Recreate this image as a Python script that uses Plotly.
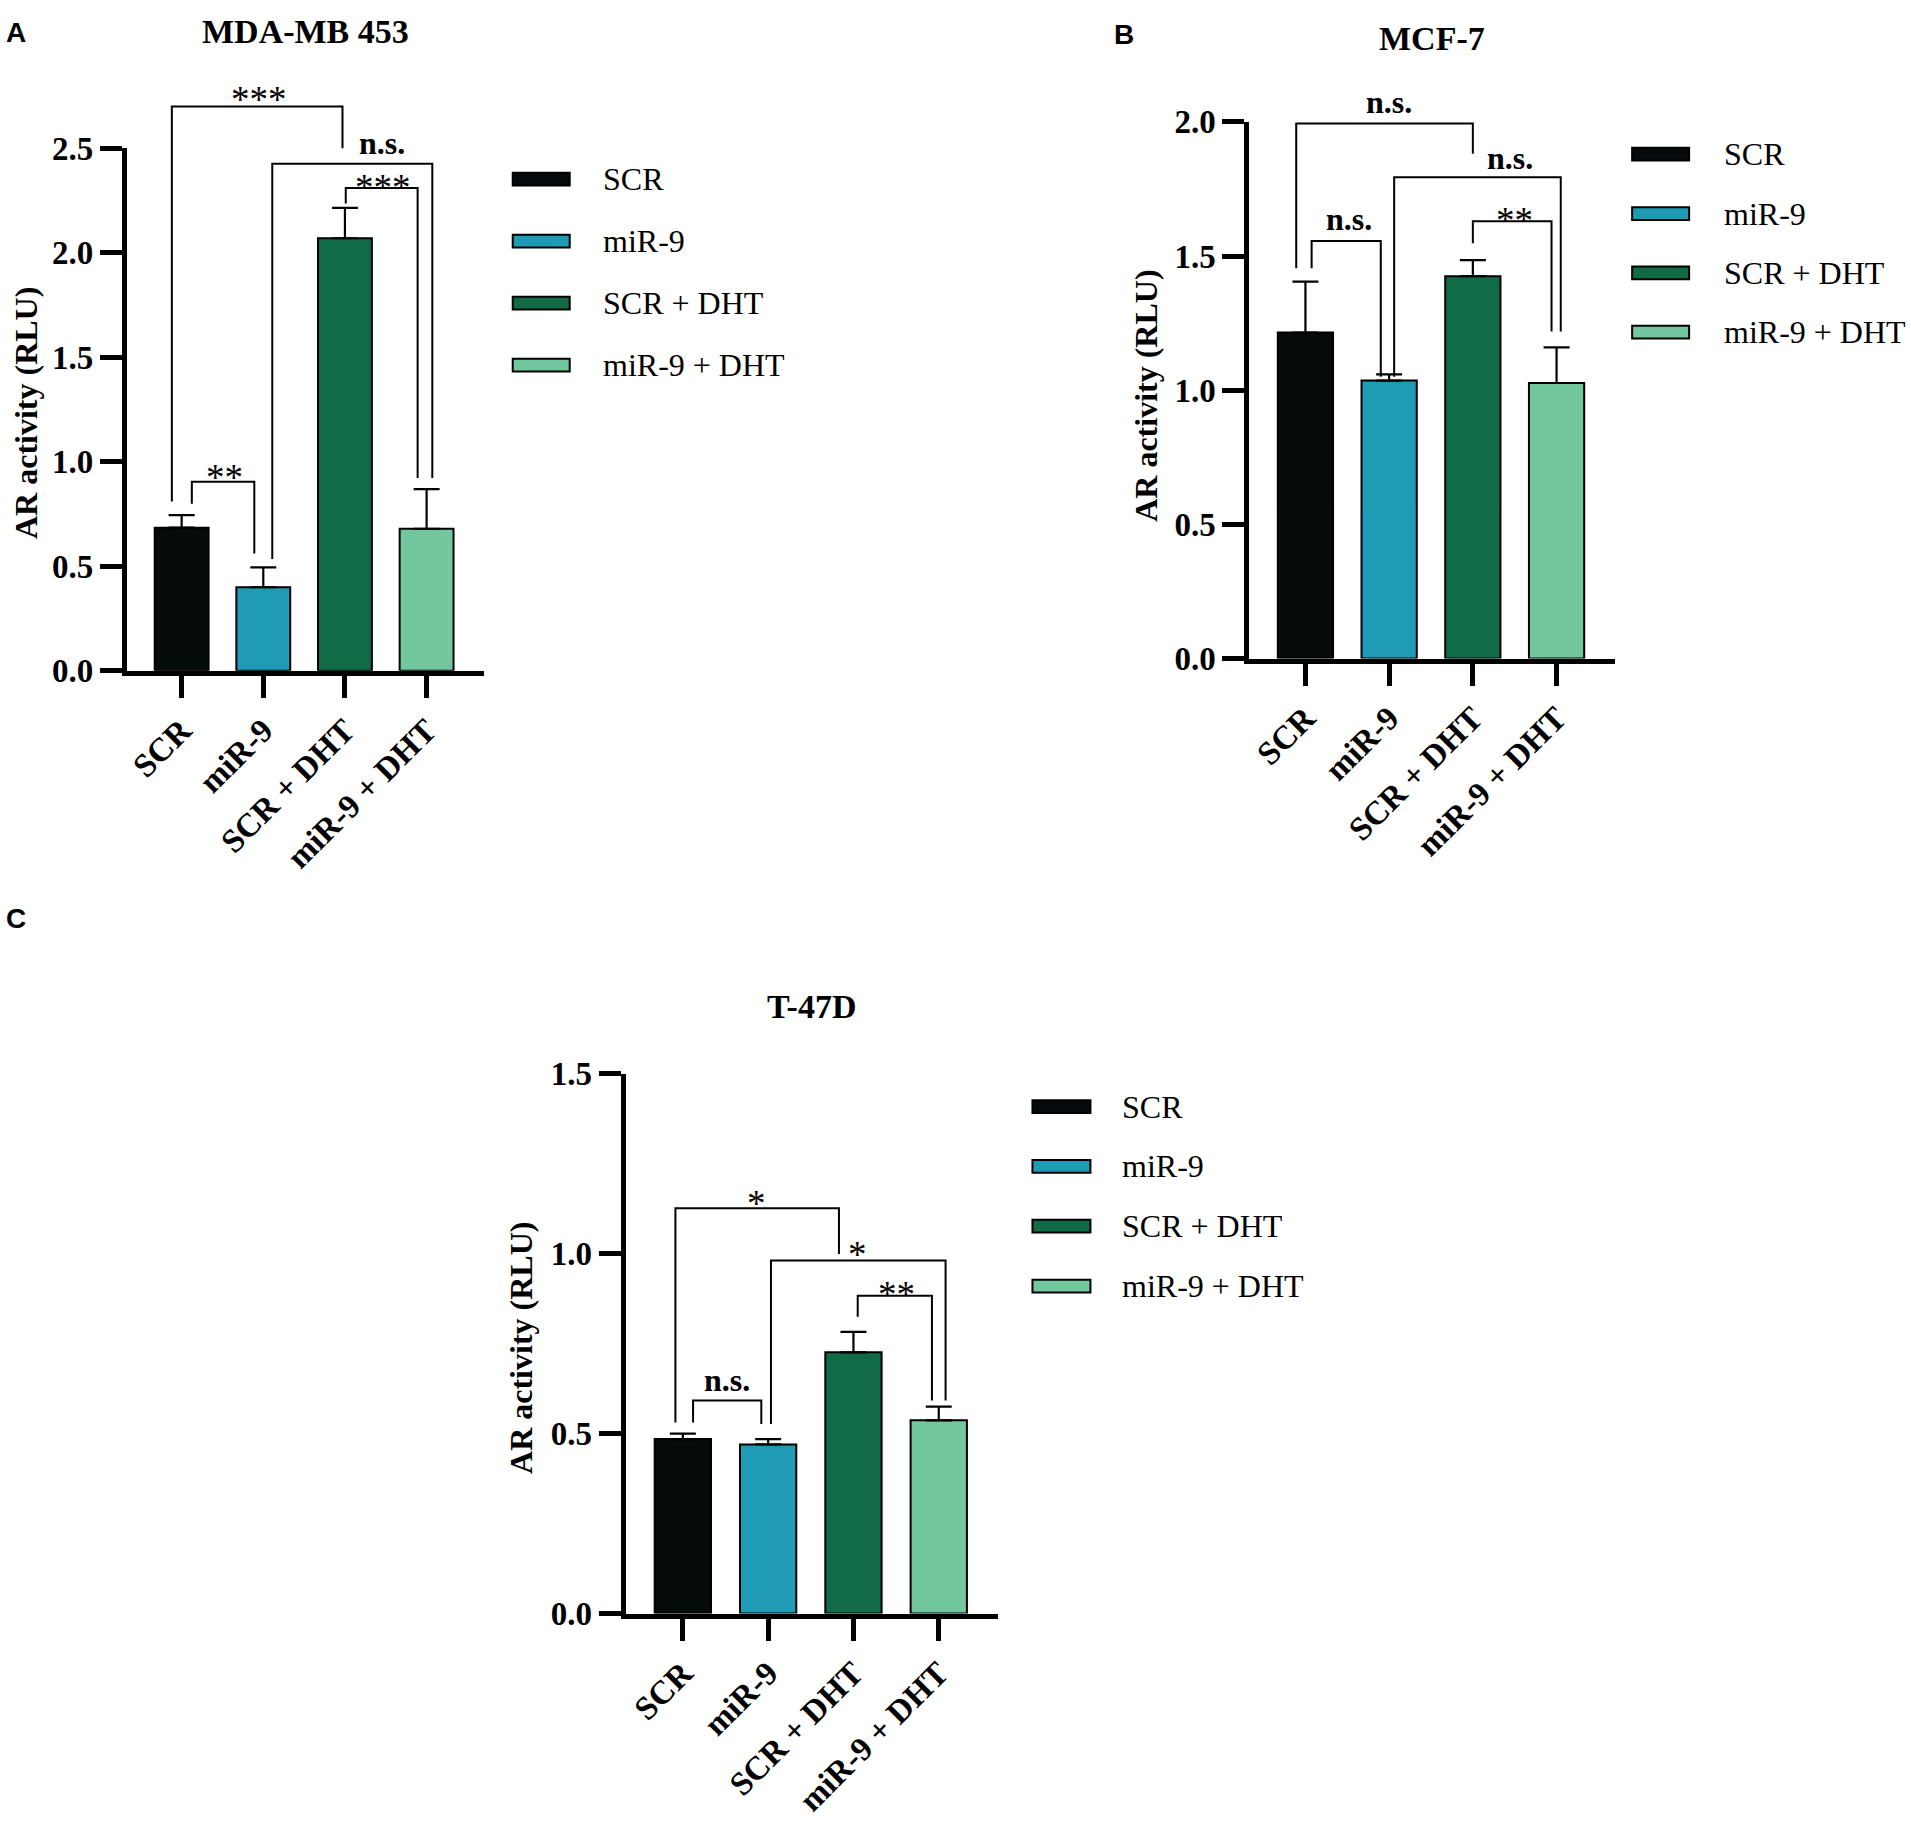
import plotly.graph_objects as go

# ---- data ----
categories = ["SCR", "miR-9", "SCR + DHT", "miR-9 + DHT"]
colors = ["#050a0a", "#1f9bb5", "#116b46", "#73c79e"]

# A: MDA-MB 453
mda_mean = [0.685, 0.40, 2.07, 0.68]
mda_err = [0.06, 0.095, 0.145, 0.19]
# B: MCF-7
mcf_mean = [1.215, 1.036, 1.425, 1.027]
mcf_err = [0.19, 0.023, 0.06, 0.133]
# C: T-47D
t47_mean = [0.485, 0.47, 0.726, 0.537]
t47_err = [0.015, 0.015, 0.057, 0.038]

# significance brackets: (x left, x right, top, left foot, right foot, label, label x, label y)
mda_sig = [
    (-0.12, 1.97, 2.70, 0.81, 2.50, "***", 0.95, 2.777),
    (1.11, 3.07, 2.426, 0.535, 0.923, "n.s.", 2.45, 2.513),
    (2.01, 2.89, 2.31, 2.236, 0.923, "***", 2.47, 2.355),
    (0.125, 0.89, 0.905, 0.80, 0.562, "**", 0.525, 0.97),
]
mcf_sig = [
    (-0.11, 2.0, 1.994, 1.455, 1.881, "n.s.", 1.0, 2.062),
    (0.074, 0.90, 1.556, 1.455, 1.05, "n.s.", 0.525, 1.626),
    (1.06, 3.05, 1.794, 1.05, 1.219, "n.s.", 2.44, 1.856),
    (2.0, 2.94, 1.63, 1.548, 1.219, "**", 2.50, 1.667),
]
t47_sig = [
    (-0.087, 1.83, 1.126, 0.531, 0.999, "*", 0.865, 1.165),
    (1.033, 3.08, 0.981, 0.527, 0.592, "*", 2.05, 1.022),
    (2.05, 2.92, 0.883, 0.825, 0.592, "**", 2.50, 0.913),
    (0.12, 0.92, 0.592, 0.531, 0.527, "n.s.", 0.52, 0.641),
]

W, H = 1911, 1828
SERIF = "Liberation Serif"
SANS = "Liberation Sans"
XRANGE = [-0.67, 3.70]


def px(x):
    return x / W


def py(y):
    return 1 - y / H


panels = [
    dict(mean=mda_mean, err=mda_err, sig=mda_sig, ymax=2.5, title="MDA-MB 453", letter="A",
         dx=(126, 483), dy=(134, 667), title_at=(305, 15), letter_at=(15, 16),
         ytitle_at=(25, 404), leg_x=(512, 569, 600), leg_y0=165.5, leg_dy=63.2),
    dict(mean=mcf_mean, err=mcf_err, sig=mcf_sig, ymax=2.0, title="MCF-7", letter="B",
         dx=(1249, 1615), dy=(107, 654.5), title_at=(1432, 22), letter_at=(1124, 18),
         ytitle_at=(1146, 386), leg_x=(1632, 1689, 1722), leg_y0=140, leg_dy=60.5),
    dict(mean=t47_mean, err=t47_err, sig=t47_sig, ymax=1.5, title="T-47D", letter="C",
         dx=(625, 998), dy=(1078, 1628.7), title_at=(811, 1009), letter_at=(15, 920),
         ytitle_at=(521, 1358), leg_x=(1032, 1090, 1120), leg_y0=1111.5, leg_dy=61),
]

fig = go.Figure()
annotations = []
shapes = []
xpos = list(range(len(categories)))
n = len(panels)
EXT = 100  # extra pixels above each plot for the significance brackets

for i, p in enumerate(panels, start=1):
    xa = "x" if i == 1 else "x%d" % i
    ya = "y" if i == 1 else "y%d" % i
    # invisible twin axes, same scale, taller domain, so brackets are not clipped
    xb, yb = "x%d" % (i + n), "y%d" % (i + n)

    fig.add_trace(go.Bar(
        x=xpos, y=p["mean"], xaxis=xa, yaxis=ya, width=0.66,
        marker=dict(color=colors, line=dict(color="#000000", width=2)),
        error_y=dict(type="data", array=p["err"], arrayminus=[0] * len(categories),
                     symmetric=False, color="#000000", thickness=2.2, width=13),
        showlegend=False, hoverinfo="skip",
    ))

    for x1, x2, top, f1, f2, lab, lx, ly in p["sig"]:
        fig.add_trace(go.Scatter(
            x=[x1, x1, x2, x2], y=[f1, top, top, f2], xaxis=xb, yaxis=yb,
            mode="lines", line=dict(color="#000000", width=2),
            showlegend=False, hoverinfo="skip",
        ))
        star = lab.startswith("*")
        annotations.append(dict(
            x=lx, y=ly, xref=xb, yref=yb, text=lab, showarrow=False,
            xanchor="center", yanchor="middle", yshift=-9 if star else 3,
            font=dict(family=SERIF, size=37 if star else 32, color="#000000",
                      weight="normal" if star else "bold"),
        ))

    axis_common = dict(showline=True, linecolor="#000000", linewidth=5,
                       ticks="outside", tickcolor="#000000", tickwidth=4.5, ticklen=22,
                       showgrid=False, zeroline=False, fixedrange=True,
                       tickfont=dict(family=SERIF, size=33, color="#000000", weight="bold"))
    top_px, bot_px = p["dy"]
    d0, d1 = py(bot_px), py(top_px)
    d1e = py(max(0, top_px - EXT))
    fig.update_layout(**{
        ("xaxis" if i == 1 else "xaxis%d" % i): dict(
            domain=[px(p["dx"][0]), px(p["dx"][1])], anchor=ya,
            range=XRANGE, tickvals=xpos, ticktext=categories, tickangle=-45,
            **axis_common),
        ("yaxis" if i == 1 else "yaxis%d" % i): dict(
            domain=[d0, d1], anchor=xa,
            range=[0, p["ymax"]], tick0=0, dtick=0.5, tickformat=".1f",
            **axis_common),
        "xaxis%d" % (i + n): dict(
            domain=[px(p["dx"][0]), px(p["dx"][1])], anchor=yb, range=XRANGE,
            visible=False, fixedrange=True),
        "yaxis%d" % (i + n): dict(
            domain=[d0, d1e], anchor=xb,
            range=[0, p["ymax"] * (d1e - d0) / (d1 - d0)],
            visible=False, fixedrange=True),
    })

    annotations.append(dict(
        x=px(p["title_at"][0]), y=py(p["title_at"][1]), xref="paper", yref="paper",
        text=p["title"], showarrow=False, xanchor="center", yanchor="middle",
        font=dict(family=SERIF, size=34, color="#000000", weight="bold")))
    annotations.append(dict(
        x=px(p["letter_at"][0]), y=py(p["letter_at"][1]), xref="paper", yref="paper",
        text=p["letter"], showarrow=False, xanchor="center", yanchor="middle",
        font=dict(family=SANS, size=28, color="#000000", weight="bold")))
    annotations.append(dict(
        x=px(p["ytitle_at"][0]), y=py(p["ytitle_at"][1]), xref="paper", yref="paper",
        text="AR activity (RLU)", textangle=-90, showarrow=False,
        xanchor="center", yanchor="middle",
        font=dict(family=SERIF, size=32, color="#000000", weight="bold")))

    # legend drawn as swatches + labels
    x0, x1, xt = p["leg_x"]
    for k, name in enumerate(categories):
        yc = p["leg_y0"] + k * p["leg_dy"]
        shapes.append(dict(
            type="rect", xref="paper", yref="paper",
            x0=px(x0), x1=px(x1), y0=py(yc + 6.5), y1=py(yc - 6.5),
            fillcolor=colors[k], line=dict(color="#000000", width=2)))
        annotations.append(dict(
            x=px(xt), y=py(yc), xref="paper", yref="paper", text=name,
            showarrow=False, xanchor="left", yanchor="middle",
            font=dict(family=SERIF, size=32, color="#000000")))

fig.update_layout(
    width=W, height=H, margin=dict(l=0, r=0, t=0, b=0),
    paper_bgcolor="white", plot_bgcolor="rgba(0,0,0,0)",
    annotations=annotations, shapes=shapes, showlegend=False,
)

fig.write_html("out.html", config={"displayModeBar": False},
               post_script="document.body.style.margin='0';"
                           "document.documentElement.style.overflow='hidden';")
